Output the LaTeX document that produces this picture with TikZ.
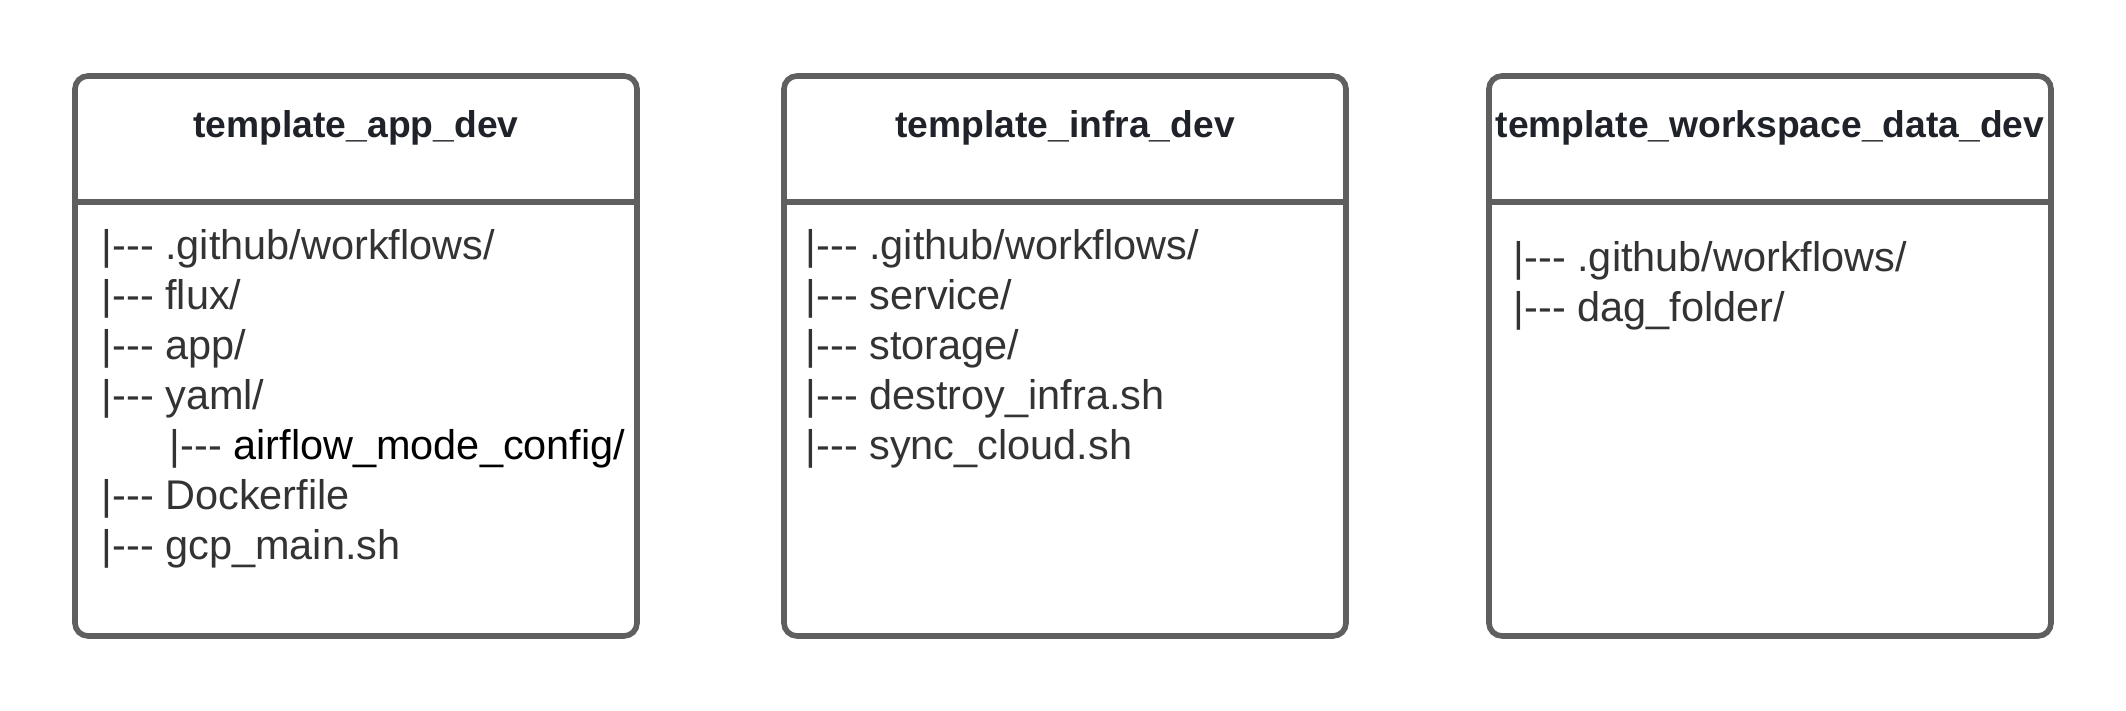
\documentclass[tikz,border=0pt]{standalone}
\usepackage{fontspec}
\setmainfont{Liberation Sans}
\usepackage{xcolor}
\usetikzlibrary{positioning}

\definecolor{framegray}{HTML}{5F5F5F}
\definecolor{titlecol}{HTML}{1F2329}
\definecolor{entrycol}{HTML}{333333}

% tree prefix, kerns keep the hyphens from turning into a dash
\newcommand{\branch}{|\kern0pt-\kern0pt-\kern0pt-\ }

\begin{document}
\begin{tikzpicture}[
    frame/.style={draw=framegray, line width=1.6pt, rounded corners=0.13cm, outer sep=0pt,
                  minimum width=5.62cm, minimum height=5.6cm},
    divider/.style={draw=framegray, line width=1.6pt},
    title/.style={anchor=base, inner sep=0pt, text=titlecol, font=\fontsize{10.6}{12}\selectfont\bfseries},
    entry/.style={anchor=base west, inner sep=0pt, text=entrycol, font=\fontsize{11.8}{14}\selectfont},
]
\useasboundingbox (0,0) rectangle (21.26,7.11);

\node[frame] (appbox) at (3.56, 3.55) {};
\node[frame] (infrabox) at (10.65, 3.55) {};
\node[frame] (wsbox) at (17.70, 3.55) {};

\draw[divider] ([yshift=-1.26cm]appbox.north west) -- ([yshift=-1.26cm]appbox.north east);
\draw[divider] ([yshift=-1.26cm]infrabox.north west) -- ([yshift=-1.26cm]infrabox.north east);
\draw[divider] ([yshift=-1.26cm]wsbox.north west) -- ([yshift=-1.26cm]wsbox.north east);

\node[title] (apptitle) at (3.56, 5.73) {template\_app\_dev};
\node[title] (infratitle) at (10.65, 5.73) {template\_infra\_dev};
\node[title] (wstitle) at (17.70, 5.73) {template\_workspace\_data\_dev};

\node[entry] (appgithub) at (1.01, 4.51) {\branch .github/workflows/};
\node[entry] (appflux) at (1.01, 4.01) {\branch flux/};
\node[entry] (appapp) at (1.01, 3.51) {\branch app/};
\node[entry] (appyaml) at (1.01, 3.01) {\branch yaml/};
\node[entry] (appairflow) at (1.69, 2.51) {\branch \textcolor{black}{airflow\_mode\_config/}};
\node[entry] (appdocker) at (1.01, 2.01) {\branch Dockerfile};
\node[entry] (appgcp) at (1.01, 1.51) {\branch gcp\_main.sh};

\node[entry] (infragithub) at (8.05, 4.51) {\branch .github/workflows/};
\node[entry] (infraservice) at (8.05, 4.01) {\branch service/};
\node[entry] (infrastorage) at (8.05, 3.51) {\branch storage/};
\node[entry] (infradestroy) at (8.05, 3.01) {\branch destroy\_infra.sh};
\node[entry] (infrasync) at (8.05, 2.51) {\branch sync\_cloud.sh};

\node[entry] (wsgithub) at (15.13, 4.39) {\branch .github/workflows/};
\node[entry] (wsdag) at (15.13, 3.89) {\branch dag\_folder/};

\end{tikzpicture}
\end{document}
